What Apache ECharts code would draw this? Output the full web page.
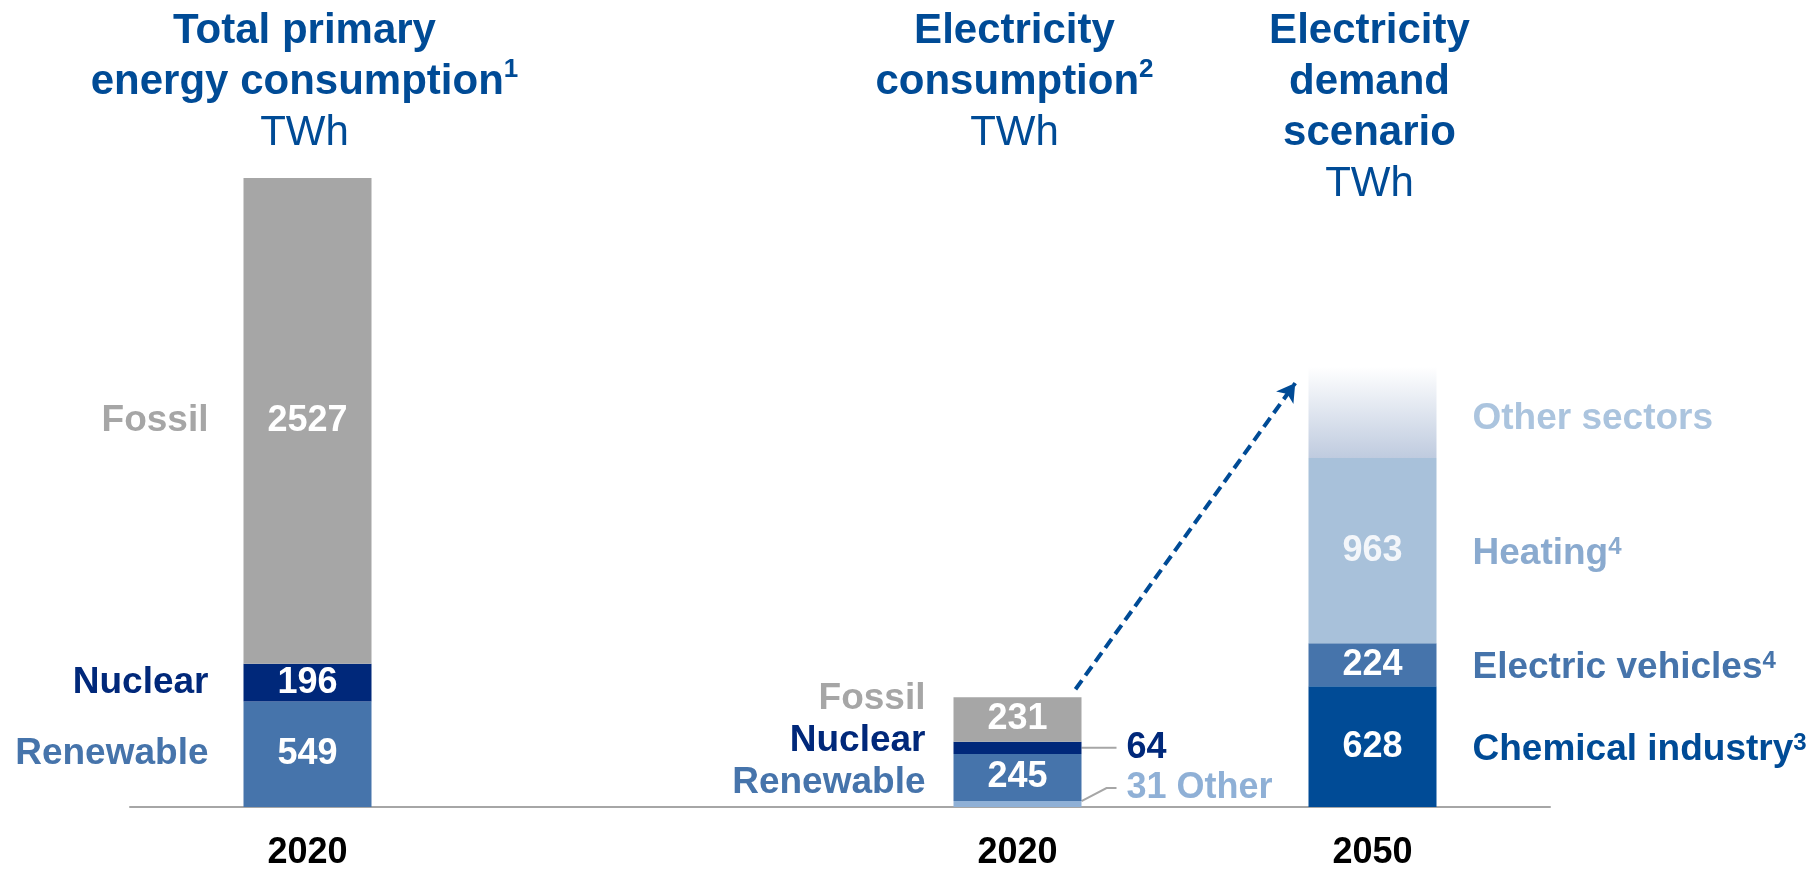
<!DOCTYPE html>
<html>
<head>
<meta charset="utf-8">
<script src="https://cdn.jsdelivr.net/npm/echarts@6/dist/echarts.min.js"></script>
<style>
  html, body { margin: 0; padding: 0; background: #ffffff; }
  #chart { width: 1811px; height: 871px; }
</style>
</head>
<body>
<div id="chart"></div>
<script>
// Columns along the baseline; the second slot is an empty spacer
const categories = ['Primary energy 2020', 'spacer', 'Electricity 2020', 'Electricity 2050'];
const tickLabels = ['2020', '', '2020', '2050'];

// TWh per segment, stacked bottom to top
const otherUse     = [null, null, 31,   null];
const renewable    = [549,  null, 245,  null];
const nuclear      = [196,  null, 64,   null];
const fossil       = [2527, null, 231,  null];
const chemical     = [null, null, null, 628];
const eVehicles    = [null, null, null, 224];
const heating      = [null, null, null, 963];
const otherSectors = [null, null, null, 475];

// Column headings: bold lines, footnote mark, unit
const headingLines = [['Total primary', 'energy consumption'], ['Electricity', 'consumption'], ['Electricity', 'demand', 'scenario']];
const headingNotes = ['1', '2', ''];
const headingUnit = 'TWh';
const headingColumns = [0, 2, 3];

const FONT = "'Liberation Sans', Arial, Helvetica, sans-serif";
const TITLE_BLUE = '#004b96';
const GRID_LEFT = 130, GRID_RIGHT = 261, GRID_TOP = 178, GRID_BOTTOM = 61;
const BAR_W = 128;

const segments = [
  { name: 'Other',             data: otherUse,     color: '#8fb0d6' },
  { name: 'Renewable',         data: renewable,    color: '#4674ab' },
  { name: 'Nuclear',           data: nuclear,      color: '#00287a' },
  { name: 'Fossil',            data: fossil,       color: '#a6a6a6' },
  { name: 'Chemical industry', data: chemical,     color: '#004b96', note: '3' },
  { name: 'Electric vehicles', data: eVehicles,    color: '#4674ab', note: '4' },
  { name: 'Heating',           data: heating,      color: '#a8c1da', note: '4', text: '#8aaacf' },
  { name: 'Other sectors',     data: otherSectors, text: '#abc4de', shift: 6,
    color: new echarts.graphic.LinearGradient(0, 0, 0, 1, [
      { offset: 0, color: '#ffffff' },
      { offset: 1, color: '#bfcbdf' }
    ]) }
];

// vertical nudges for the stacked captions left of the 2020 electricity column
const captionShift = { Fossil: -21, Nuclear: -7, Renewable: 5 };

const primaryTotal = renewable[0] + nuclear[0] + fossil[0];
const colTotal = (i) => segments.reduce((s, seg) => s + (seg.data[i] || 0), 0);

function valueLabel(seg, i) {
  if (seg.name === 'Other sectors') return { show: false };
  if (i === 2 && seg.name === 'Nuclear') {
    return { show: true, position: 'right', distance: 35, color: seg.color,
      padding: [0, 0, 0, 10], backgroundColor: 'rgba(255,255,255,0)' };
  }
  if (i === 2 && seg.name === 'Other') {
    return { show: true, position: 'right', distance: 35, offset: [0, -16], color: seg.color,
      padding: [0, 0, 0, 10], backgroundColor: 'rgba(255,255,255,0)',
      formatter: (p) => p.value + ' ' + seg.name };
  }
  if (seg.name === 'Heating') return { show: true, color: '#f3f6fa' };
  return { show: true };
}

function valueLine(seg, i) {
  const outside = i === 2 && (seg.name === 'Nuclear' || seg.name === 'Other');
  return outside
    ? { show: true, length2: 10, lineStyle: { color: '#a6a6a6', width: 2 } }
    : { show: false };
}

function captionLabel(seg, i) {
  const txt = seg.text || seg.color;
  if (i === 0) {
    return { show: true, position: 'left', distance: 35, color: txt, formatter: seg.name };
  }
  if (i === 2) {
    if (!(seg.name in captionShift)) return { show: false };
    return { show: true, position: 'left', distance: 28, offset: [0, captionShift[seg.name]],
      color: txt, formatter: seg.name };
  }
  return {
    show: true, position: 'right', distance: 36, offset: [0, seg.shift || 3],
    formatter: '{n|' + seg.name + '}' + (seg.note ? '{s|' + seg.note + '}' : ''),
    rich: {
      n: { fontFamily: FONT, fontSize: 37, fontWeight: 'bold', color: txt, verticalAlign: 'bottom' },
      s: { fontFamily: FONT, fontSize: 24, fontWeight: 'bold', color: txt, verticalAlign: 'top' }
    }
  };
}

const series = [];
segments.forEach((seg) => {
  series.push({
    type: 'bar', name: seg.name, stack: 'total', barWidth: BAR_W, barGap: '-100%',
    itemStyle: { color: seg.color },
    label: { show: true, position: 'inside', color: '#ffffff', fontFamily: FONT, fontSize: 36, fontWeight: 'bold' },
    data: seg.data.map((v, i) => v == null ? '-' : { value: v, label: valueLabel(seg, i), labelLine: valueLine(seg, i) })
  });
});
segments.forEach((seg) => {
  series.push({
    type: 'bar', name: seg.name + ' caption', stack: 'caption', barWidth: BAR_W, barGap: '-100%', silent: true,
    itemStyle: { color: 'rgba(0,0,0,0)' },
    label: { show: true, fontFamily: FONT, fontSize: 37, fontWeight: 'bold' },
    data: seg.data.map((v, i) => v == null ? '-' : { value: v, label: captionLabel(seg, i) })
  });
});

const band = (1811 - GRID_LEFT - GRID_RIGHT) / categories.length;
const titles = headingLines.map((lines, k) => ({
  left: GRID_LEFT + (headingColumns[k] + 0.5) * band - 3,
  top: 6,
  textAlign: 'center',
  padding: 0,
  text: lines.join('\n') + (headingNotes[k] ? '{s|' + headingNotes[k] + '}' : '') + '\n{u|' + headingUnit + '}',
  textStyle: {
    fontFamily: FONT, fontSize: 42, fontWeight: 'bold', color: TITLE_BLUE, lineHeight: 51,
    rich: {
      s: { fontFamily: FONT, fontSize: 26, fontWeight: 'bold', color: TITLE_BLUE, verticalAlign: 'top' },
      u: { fontFamily: FONT, fontSize: 42, fontWeight: 'normal', color: TITLE_BLUE, lineHeight: 51 }
    }
  }
}));

const chart = echarts.init(document.getElementById('chart'), null, { renderer: 'canvas' });
chart.setOption({
  animation: false,
  backgroundColor: '#ffffff',
  title: titles,
  grid: { left: GRID_LEFT, right: GRID_RIGHT, top: GRID_TOP, bottom: GRID_BOTTOM },
  xAxis: {
    type: 'category', data: categories,
    axisTick: { show: false },
    axisLine: { lineStyle: { color: '#a6a6a6', width: 2 } },
    axisLabel: { interval: 0, margin: 28, color: '#000000', fontFamily: FONT, fontSize: 36, fontWeight: 'bold',
      formatter: (v, i) => tickLabels[i] }
  },
  yAxis: { type: 'value', min: 0, max: primaryTotal, show: false, splitLine: { show: false } },
  series: series
});

// dashed growth arrow from the 2020 electricity column to the 2050 column
const from = chart.convertToPixel({ gridIndex: 0 }, [2, colTotal(2)]);
const to = chart.convertToPixel({ gridIndex: 0 }, [3, colTotal(3)]);
const start = [from[0] + BAR_W / 2 - 6, from[1] - 8];
const tip = [to[0] - BAR_W / 2 - 8, to[1] + 9];
const dx = tip[0] - start[0], dy = tip[1] - start[1];
const len = Math.sqrt(dx * dx + dy * dy);
const end = [tip[0] - dx / len * 9, tip[1] - dy / len * 9];
chart.setOption({
  series: [{
    markLine: {
      silent: true, animation: false,
      symbol: ['none', 'arrow'], symbolSize: [16, 18],
      label: { show: false },
      lineStyle: { color: '#004b96', width: 4, type: [11, 6] },
      data: [[{ x: start[0], y: start[1] }, { x: end[0], y: end[1] }]]
    }
  }]
});
</script>
</body>
</html>
